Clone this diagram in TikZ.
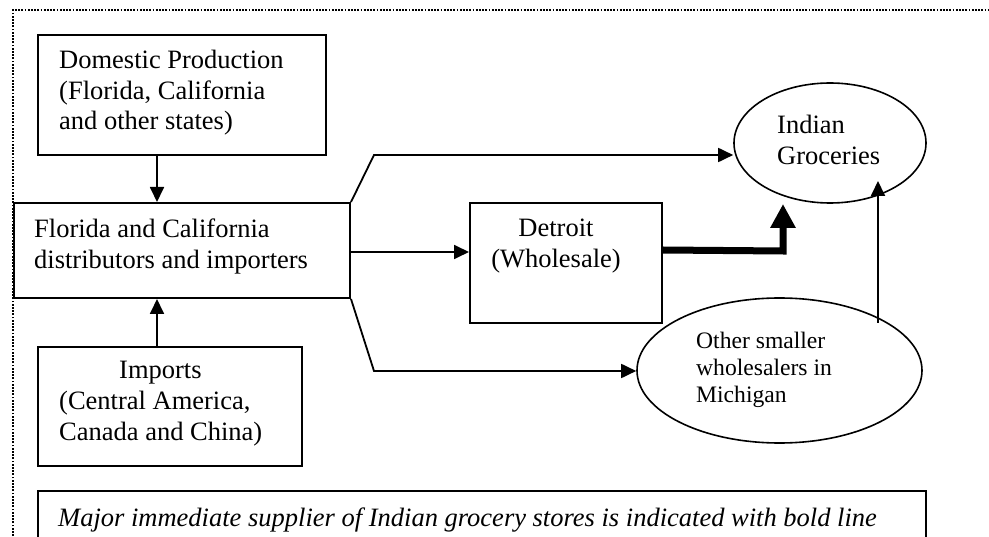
\documentclass[tikz,border=0pt]{standalone}
\usepackage{fontspec}
\setmainfont{Liberation Serif}
\usetikzlibrary{arrows.meta,shapes.geometric,calc}
\begin{document}
\begin{tikzpicture}[x=1pt,y=-1pt,
  box/.style={draw, rectangle, line width=2pt, inner sep=0pt},
  oval/.style={draw, ellipse, line width=1.6pt, inner sep=0pt},
  arr/.style={-{Triangle[length=15pt,width=14pt]}, line width=1.8pt},
  boldarr/.style={-{Triangle[length=24pt,width=24pt]}, line width=7pt, line join=miter},
  txt/.style={inner sep=0pt, anchor=west, align=left, font=\fontsize{26.5}{30.5}\selectfont},
  smalltxt/.style={inner sep=0pt, anchor=west, align=left, font=\fontsize{23.6}{27}\selectfont}]
\useasboundingbox (0,0) rectangle (989,537);
\clip (0,0) rectangle (989,537);
\fill[white] (0,0) rectangle (989,537);
% dotted frame
\draw[line width=1.8pt, dash pattern=on 1.8pt off 1.4pt] (13,600) -- (13,10) -- (1010,10);

% boxes
\node[box, minimum width=288pt, minimum height=120pt] (dom) at (182,95) {};
\node[box, minimum width=336pt, minimum height=95pt] (fl) at (182,250.5) {};
\node[box, minimum width=264pt, minimum height=119pt] (imp) at (170,406.5) {};
\node[box, minimum width=192pt, minimum height=120pt] (det) at (566,263) {};
\node[oval, minimum width=192pt, minimum height=120pt] (ind) at (830,143) {};
\node[oval, minimum width=285pt, minimum height=145pt] (oth) at (779.5,370.5) {};
\node[box, minimum width=888pt, minimum height=80pt] (note) at (482,531) {};

% texts
\node[txt] (tdom) at (59,93) {Domestic Production\\(Florida, California\\and other states)};
\node[txt] (tfl) at (34,246.5) {Florida and California\\distributors and importers};
\node[txt, font=\fontsize{26.5}{31}\selectfont] (timp) at (59,404) {\hspace*{60pt}Imports\\(Central America,\\Canada and China)};
\node[txt, anchor=center, align=center] (tdet) at (556,246) {Detroit\\(Wholesale)};
\node[txt] (tind) at (777,140) {Indian\\Groceries};
\node[smalltxt] (toth) at (696,370) {Other smaller\\wholesalers in\\Michigan};
\node[txt, font=\fontsize{26.5}{30}\selectfont\itshape] (tnote) at (58,520) {Major immediate supplier of Indian grocery stores is indicated with bold line};

% connectors
\draw[arr] ($(dom.south west)+(120,0)$) -- ($(fl.north west)+(144,0)$);
\draw[arr] ($(imp.north west)+(120,0)$) -- ($(fl.south west)+(144,0)$);
\coordinate (mid) at ($(fl.east)+(0,1.5)$);
\draw[arr] (mid) -- (det.west |- mid);
\coordinate (up1) at (374,155);
\coordinate (lo1) at (374,371);
\draw[arr, line join=miter] (fl.north east) -- (up1) -- (ind.west |- up1);
\draw[arr, line join=miter] (fl.south east) -- (lo1) -- (oth.west |- lo1);
\coordinate (bend) at (783,251);
\draw[boldarr] ($(det.north east)+(0,48)$) -- (bend) -- ($(bend)+(0,-47)$);
\coordinate (othtop) at (878,323);
\draw[arr] (othtop) -- ($(othtop)+(0,-142)$);
\end{tikzpicture}
\end{document}
